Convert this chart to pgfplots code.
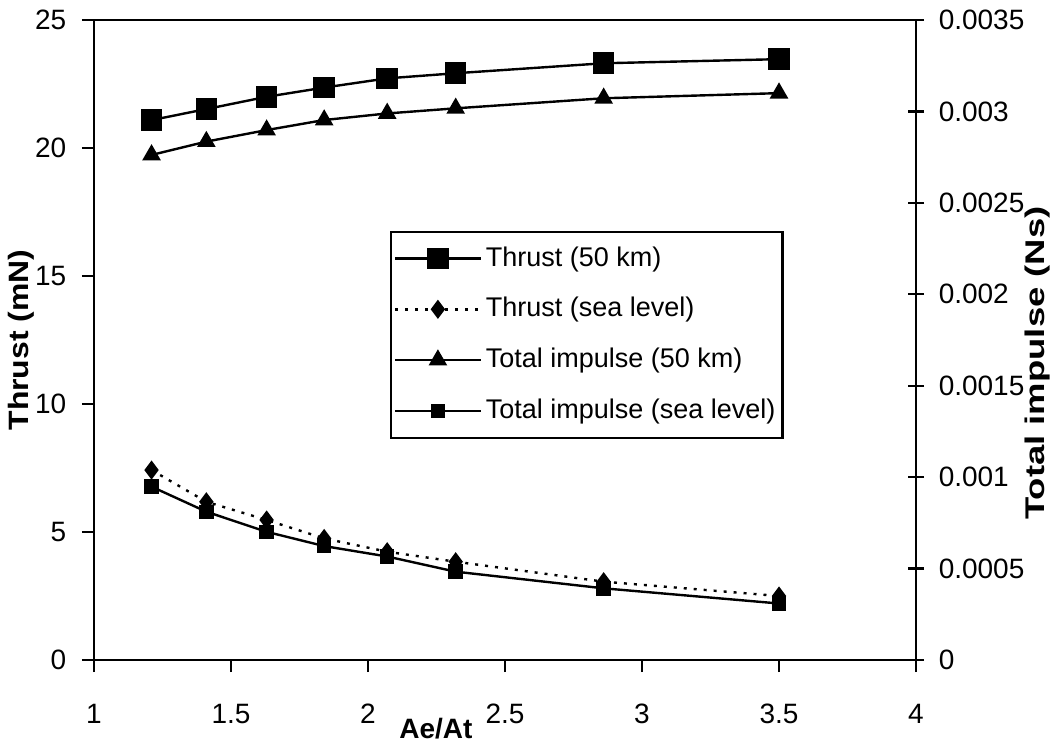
\documentclass[border=0pt]{standalone}
\usepackage{pgfplots}
\pgfplotsset{compat=1.18}
\usepackage{fontspec}
\setmainfont{Liberation Sans}
\begin{document}
\fontsize{14}{16}\selectfont
\begin{tikzpicture}
\path[use as bounding box] (-47pt,-42pt) rectangle (479pt,330pt);
\pgfplotsset{
  every axis/.append style={
    scale only axis, width=411pt, height=320pt,
    xmin=1, xmax=4,
    /pgf/number format/assume math mode=true,
    axis line style={line width=1.1pt},
    every tick/.style={black, line width=1.1pt},
    tick label style={font=\fontsize{14}{16}\selectfont},
    label style={font=\fontsize{14}{16}\selectfont\bfseries},
  },
}
\begin{axis}[
  at={(0,0)}, anchor=south west,
  ymin=0, ymax=25,
  xtick={1,1.5,...,4},
  ytick={0,5,...,25},
  xtick pos=bottom, ytick pos=left,
  tick align=outside, major tick length=6pt,
  xticklabel style={yshift=-11pt},
  yticklabel style={xshift=-3pt},
  xlabel={Ae/At},
  xlabel style={at={(axis description cs:0.416,-0.108)}, anchor=center},
  ylabel={\scalebox{1.14}[1]{Thrust (mN)}},
  ylabel style={at={(axis description cs:-0.088,0.5)}, anchor=center},
]
\addplot[black, line width=1.2pt, mark=square*, mark size=4.8pt, mark options={solid}] coordinates {
(1.21,21.09) (1.41,21.52) (1.63,22.00) (1.84,22.36) (2.07,22.72) (2.32,22.92) (2.86,23.31) (3.5,23.47)};
\addplot[black, line width=1.2pt, dash pattern=on 1.5pt off 3.5pt, mark=diamond*, mark size=3.8pt, mark options={solid}] coordinates {
(1.21,7.42) (1.41,6.18) (1.63,5.47) (1.84,4.75) (2.07,4.23) (2.32,3.84) (2.86,3.06) (3.5,2.50)};
\end{axis}
\begin{axis}[
  at={(0,0)}, anchor=south west,
  ymin=0, ymax=0.0035,
  axis x line=none, axis y line*=right,
  ytick={0,0.0005,0.001,0.0015,0.002,0.0025,0.003,0.0035},
  yticklabels={0,0.0005,0.001,0.0015,0.002,0.0025,0.003,0.0035},
  scaled y ticks=false,
  tick align=center, major tick length=8pt,
  yticklabel style={xshift=2.5pt},
  ylabel={\scalebox{1.35}[1]{\fontsize{13.5}{15}\selectfont Total impulse (Ns)}},
  ylabel style={at={(axis description cs:1.1475,0.464)}, anchor=center, inner sep=0pt},
  legend cell align=left,
  legend style={at={(axis description cs:0.360,0.671)}, anchor=north west,
    draw=black, line width=1.1pt, font=\fontsize{13.5}{16}\selectfont,
    row sep=9.5pt, inner xsep=1.5pt, inner ysep=5.5pt},
  legend image code/.code={%
    \draw[mark repeat=2, mark phase=2] plot coordinates {(0cm,0cm) (0.75cm,0cm) (1.5cm,0cm)};},
]
\addlegendimage{black, line width=1.2pt, mark=square*, mark size=4.8pt, mark options={solid}}
\addlegendentry{Thrust (50 km)}
\addlegendimage{black, line width=1.2pt, dash pattern=on 1.5pt off 3.5pt, mark=diamond*, mark size=3.8pt, mark options={solid}}
\addlegendentry{Thrust (sea level)}
\addplot[black, line width=1.2pt, mark=triangle*, mark size=4.2pt, mark options={solid}] coordinates {
(1.21,0.002762) (1.41,0.002835) (1.63,0.002898) (1.84,0.002953) (2.07,0.002989) (2.32,0.003017) (2.86,0.003072) (3.5,0.003100)};
\addlegendentry{Total impulse (50 km)}
\addplot[black, line width=1.2pt, mark=square*, mark size=3pt, mark options={solid}] coordinates {
(1.21,0.000948) (1.41,0.000811) (1.63,0.000701) (1.84,0.000623) (2.07,0.000566) (2.32,0.000483) (2.86,0.000392) (3.5,0.000309)};
\addlegendentry{Total impulse (sea level)}
\end{axis}
\end{tikzpicture}
\end{document}
